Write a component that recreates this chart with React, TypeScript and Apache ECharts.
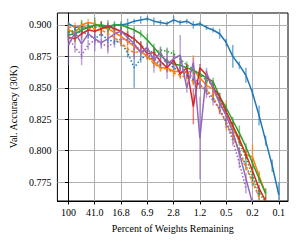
import React, { useEffect, useRef } from "react";
import * as echarts from "echarts";

const xTicks = [0, 4, 8, 12, 16, 20, 24, 28, 32];
const xTickLabels = ["100", "41.0", "16.8", "6.9", "2.8", "1.2", "0.5", "0.2", "0.1"];
const yTicks = [0.775, 0.8, 0.825, 0.85, 0.875, 0.9];

const blueSolid = [0.901,0.898,0.899,0.897,0.900,0.899,0.898,0.900,0.900,0.901,0.903,0.904,0.905,0.903,0.902,0.901,0.904,0.902,0.903,0.900,0.901,0.898,0.896,0.893,0.886,0.875,0.868,0.860,0.846,0.828,0.808,0.788,0.765];
const blueSolidErr = [0.002,0.002,0.002,0.002,0.002,0.002,0.002,0.002,0.002,0.004,0.002,0.003,0.002,0.003,0.002,0.002,0.003,0.002,0.002,0.003,0.002,0.002,0.002,0.004,0.003,0.009,0.003,0.006,0.003,0.008,0.004,0.005,0.01];

const blueDot = [0.895,0.893,0.895,0.892,0.889,0.893,0.888,0.887,0.886,0.878,0.866,0.873,0.876,0.872,0.868,0.870,0.866,0.863,0.860,0.856,0.852,0.848,0.842,0.833,0.823,0.812,0.800,0.788,0.776,0.764];
const blueDotErr = [0.003,0.003,0.003,0.003,0.003,0.003,0.003,0.003,0.003,0.004,0.016,0.003,0.003,0.003,0.003,0.003,0.003,0.003,0.003,0.003,0.003,0.003,0.003,0.003,0.003,0.003,0.003,0.003,0.004,0.004];

const orangeSolid = [0.896,0.894,0.900,0.902,0.901,0.898,0.897,0.894,0.891,0.887,0.883,0.879,0.875,0.871,0.866,0.866,0.863,0.863,0.862,0.864,0.858,0.852,0.849,0.838,0.828,0.818,0.808,0.797,0.795,0.780,0.766];
const orangeSolidErr = [0.006,0.003,0.003,0.003,0.003,0.003,0.003,0.003,0.003,0.003,0.003,0.003,0.003,0.003,0.003,0.003,0.004,0.003,0.003,0.012,0.003,0.003,0.003,0.003,0.012,0.003,0.003,0.004,0.01,0.004,0.004];

const orangeDash = [0.898,0.899,0.899,0.897,0.897,0.896,0.893,0.890,0.886,0.881,0.878,0.879,0.875,0.869,0.866,0.865,0.862,0.860,0.858,0.855,0.852,0.848,0.843,0.832,0.822,0.811,0.799,0.787,0.775,0.763];
const orangeDashErr = [0.003,0.003,0.003,0.003,0.003,0.003,0.003,0.003,0.003,0.003,0.003,0.003,0.003,0.003,0.003,0.003,0.003,0.003,0.003,0.003,0.003,0.003,0.003,0.003,0.003,0.003,0.003,0.003,0.003,0.003];

const greenSolid = [0.892,0.893,0.896,0.898,0.900,0.900,0.899,0.900,0.900,0.898,0.896,0.893,0.888,0.882,0.876,0.871,0.869,0.868,0.866,0.864,0.861,0.858,0.855,0.843,0.834,0.824,0.814,0.803,0.790,0.778,0.766];
const greenSolidErr = [0.004,0.007,0.008,0.004,0.006,0.003,0.005,0.003,0.003,0.003,0.003,0.003,0.005,0.003,0.003,0.003,0.003,0.003,0.003,0.003,0.003,0.006,0.003,0.003,0.003,0.003,0.006,0.003,0.004,0.004,0.004];

const greenDot = [0.894,0.896,0.897,0.899,0.898,0.899,0.897,0.897,0.895,0.892,0.888,0.884,0.880,0.878,0.880,0.879,0.877,0.873,0.868,0.865,0.860,0.856,0.852,0.840,0.830,0.819,0.807,0.794,0.780,0.767,0.758];
const greenDotErr = [0.003,0.003,0.003,0.003,0.003,0.003,0.003,0.003,0.003,0.003,0.003,0.003,0.003,0.003,0.003,0.003,0.003,0.003,0.003,0.003,0.003,0.003,0.003,0.003,0.003,0.003,0.003,0.003,0.003,0.003,0.003];

const redSolid = [0.890,0.889,0.893,0.896,0.895,0.897,0.899,0.897,0.895,0.892,0.889,0.884,0.877,0.878,0.871,0.866,0.872,0.861,0.866,0.835,0.866,0.860,0.850,0.843,0.831,0.820,0.809,0.797,0.784,0.770,0.760];
const redSolidErr = [0.003,0.003,0.003,0.003,0.003,0.006,0.003,0.003,0.003,0.003,0.003,0.003,0.003,0.003,0.003,0.003,0.003,0.003,0.003,0.014,0.003,0.003,0.006,0.003,0.003,0.003,0.003,0.003,0.003,0.003,0.003];

const purpleSolid = [0.884,0.894,0.885,0.893,0.889,0.886,0.889,0.893,0.895,0.890,0.885,0.878,0.882,0.872,0.878,0.869,0.873,0.876,0.850,0.870,0.810,0.862,0.850,0.838,0.828,0.815,0.798,0.778,0.758];
const purpleSolidErr = [0.016,0.004,0.012,0.004,0.010,0.004,0.012,0.004,0.004,0.004,0.012,0.004,0.004,0.010,0.004,0.012,0.004,0.016,0.004,0.004,0.033,0.004,0.004,0.004,0.006,0.004,0.004,0.004,0.004];

const purpleDot = [0.890,0.882,0.876,0.884,0.888,0.885,0.883,0.886,0.889,0.888,0.884,0.880,0.877,0.873,0.870,0.872,0.868,0.866,0.862,0.858,0.853,0.846,0.840,0.833,0.822,0.808,0.790,0.770];
const purpleDotErr = [0.004,0.004,0.008,0.004,0.004,0.004,0.004,0.004,0.004,0.004,0.004,0.004,0.004,0.004,0.004,0.004,0.004,0.004,0.004,0.004,0.004,0.004,0.004,0.004,0.004,0.004,0.004,0.004];

const BLUE = "#1f77b4";
const ORANGE = "#ff7f0e";
const GREEN = "#2ca02c";
const RED = "#d62728";
const PURPLE = "#9467bd";

const seriesDefs = [
  { name: "blueSolid", vals: blueSolid, err: blueSolidErr, color: BLUE, dash: "solid" },
  { name: "blueDot", vals: blueDot, err: blueDotErr, color: BLUE, dash: [1.5, 2] },
  { name: "orangeSolid", vals: orangeSolid, err: orangeSolidErr, color: ORANGE, dash: "solid" },
  { name: "orangeDash", vals: orangeDash, err: orangeDashErr, color: ORANGE, dash: [3, 2] },
  { name: "greenSolid", vals: greenSolid, err: greenSolidErr, color: GREEN, dash: "solid" },
  { name: "greenDot", vals: greenDot, err: greenDotErr, color: GREEN, dash: [1.5, 2] },
  { name: "redSolid", vals: redSolid, err: redSolidErr, color: RED, dash: "solid" },
  { name: "purpleSolid", vals: purpleSolid, err: purpleSolidErr, color: PURPLE, dash: "solid" },
  { name: "purpleDot", vals: purpleDot, err: purpleDotErr, color: PURPLE, dash: [1.5, 2] },
];

const FONT = "Liberation Serif";

export default function App() {
  const ref = useRef<HTMLDivElement>(null);
  useEffect(() => {
    if (!ref.current) return;
    const chart = echarts.init(ref.current, null, { renderer: "svg" });
    const series: any[] = [];
    seriesDefs.forEach((d) => {
      series.push({
        type: "custom",
        name: d.name + "_err",
        silent: true,
        clip: true,
        data: d.vals.map((v, i) => [i, v - d.err[i], v + d.err[i]]),
        renderItem: (params: any, api: any) => {
          const p1 = api.coord([api.value(0), api.value(1)]);
          const p2 = api.coord([api.value(0), api.value(2)]);
          return {
            type: "line",
            shape: { x1: p1[0], y1: p1[1], x2: p2[0], y2: p2[1] },
            style: { stroke: d.color, lineWidth: 1.5, opacity: 0.6 },
          };
        },
        z: 2,
      });
      series.push({
        type: "line",
        name: d.name,
        data: d.vals.map((v, i) => [i, v]),
        showSymbol: false,
        symbol: "none",
        clip: true,
        lineStyle: { color: d.color, width: 1.5, type: d.dash },
        itemStyle: { color: d.color },
        z: 3,
      });
    });
    chart.setOption({
      animation: false,
      grid: {
        left: 52,
        right: 14,
        top: 13,
        bottom: 40,
        show: true,
        borderColor: "#000",
        borderWidth: 1,
      },
      xAxis: {
        type: "value",
        min: -1.68,
        max: 33.4,
        name: "Percent of Weights Remaining",
        nameLocation: "middle",
        nameGap: 22,
        nameTextStyle: { fontFamily: FONT, fontSize: 10, color: "#000" },
        axisLine: { show: true, lineStyle: { color: "#000", width: 1 } },
        axisTick: { show: true, customValues: xTicks, length: 3.5, lineStyle: { color: "#000" } },
        axisLabel: {
          customValues: xTicks,
          fontFamily: FONT,
          fontSize: 10,
          color: "#000",
          margin: 6,
          formatter: (v: number) => {
            const idx = xTicks.indexOf(Math.round(v));
            return idx >= 0 ? xTickLabels[idx] : "";
          },
        },
        splitLine: { show: true, lineStyle: { color: "#b0b0b0", width: 1 } },
      },
      yAxis: {
        type: "value",
        min: 0.76,
        max: 0.9095,
        name: "Val. Accuracy (30K)",
        nameLocation: "middle",
        nameGap: 36,
        nameTextStyle: { fontFamily: FONT, fontSize: 10, color: "#000" },
        axisLine: { show: true, lineStyle: { color: "#000", width: 1 } },
        axisTick: { show: true, customValues: yTicks, length: 3.5, lineStyle: { color: "#000" } },
        axisLabel: {
          customValues: yTicks,
          fontFamily: FONT,
          fontSize: 10,
          color: "#000",
          margin: 6,
          formatter: (v: number) => v.toFixed(3),
        },
        splitLine: { show: true, lineStyle: { color: "#b0b0b0", width: 1 } },
      },
      series,
    });
    return () => chart.dispose();
  }, []);
  return <div ref={ref} style={{ width: 302, height: 241, position: "absolute", left: 0, top: 0 }} />;
}
